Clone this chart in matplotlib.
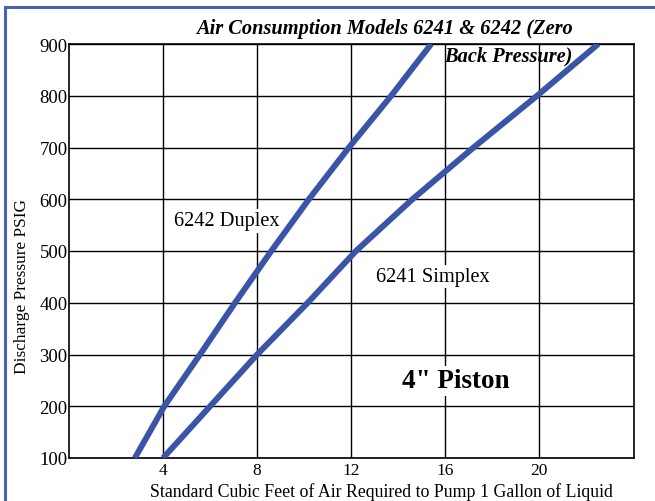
import matplotlib.pyplot as plt
from matplotlib.lines import Line2D

plt.rcParams['font.family'] = ['Liberation Serif', 'DejaVu Serif']

# pressure levels (PSIG) and air required (SCF per gallon)
pressure = [100, 200, 300, 400, 500, 600, 700, 800, 900]
duplex_scf = [2.8, 4.05, 5.57, 7.06, 8.6, 10.2, 11.9, 13.7, 15.4]
simplex_scf = [4.0, 6.0, 8.0, 10.15, 12.2, 14.6, 17.2, 19.9, 22.5]

x_ticks = [4, 8, 12, 16, 20]
y_ticks = [100, 200, 300, 400, 500, 600, 700, 800, 900]

line_color = '#3a55a8'

fig = plt.figure(figsize=(6.55, 5.02), dpi=100)
ax = fig.add_axes([69 / 655, 1 - 459 / 502, 564.5 / 655, 414 / 502])

ax.plot(duplex_scf, pressure, color=line_color, lw=4.3, solid_capstyle='butt', zorder=3)
ax.plot(simplex_scf, pressure, color=line_color, lw=4.3, solid_capstyle='butt', zorder=3)

ax.set_xlim(0, 24)
ax.set_ylim(100, 900)
ax.set_xticks(x_ticks)
ax.set_yticks(y_ticks)
ax.tick_params(axis='x', length=0, labelsize=12.5, pad=3)
ax.tick_params(axis='y', length=0, labelsize=13.5, pad=1)
ax.grid(True, color='black', lw=1.0)
ax.set_axisbelow(True)
for sp in ax.spines.values():
    sp.set_linewidth(1.2)

fig.text(381 / 655, 1 - 492 / 502,
         'Standard Cubic Feet of Air Required to Pump 1 Gallon of Liquid',
         fontsize=12.8, ha='center', va='center')
fig.text(22 / 655, 1 - 287 / 502, 'Discharge Pressure PSIG', rotation=90,
         fontsize=12.4, ha='center', va='center')

bbox = dict(facecolor='white', edgecolor='none', pad=1.5)
ax.text(4.45, 558, '6242 Duplex', fontsize=14.7, ha='left', va='center', bbox=bbox, zorder=4)
ax.text(13.05, 450, '6241 Simplex', fontsize=14.7, ha='left', va='center', bbox=bbox, zorder=4)
ax.text(16.45, 249, '4" Piston', fontsize=19.5, fontweight='bold', ha='center', va='center',
        bbox=bbox, zorder=4)

fig.text(573 / 655, 1 - 29 / 502, 'Air Consumption Models 6241 & 6242 (Zero',
         fontsize=14.7, fontweight='bold', style='italic', ha='right', va='center')
fig.text(573 / 655, 1 - 56 / 502, 'Back Pressure)',
         fontsize=14.7, fontweight='bold', style='italic', ha='right', va='center', zorder=5)

# blue frame on the left and top edges
border_color = '#4a63b0'
fig.add_artist(Line2D([5 / 655, 5 / 655], [0, 1 - 8 / 502], color=border_color, lw=2.2,
                      transform=fig.transFigure))
fig.add_artist(Line2D([5 / 655, 1], [1 - 8 / 502, 1 - 8 / 502], color=border_color, lw=2.2,
                      transform=fig.transFigure))

fig.savefig('out.png', dpi=100)
